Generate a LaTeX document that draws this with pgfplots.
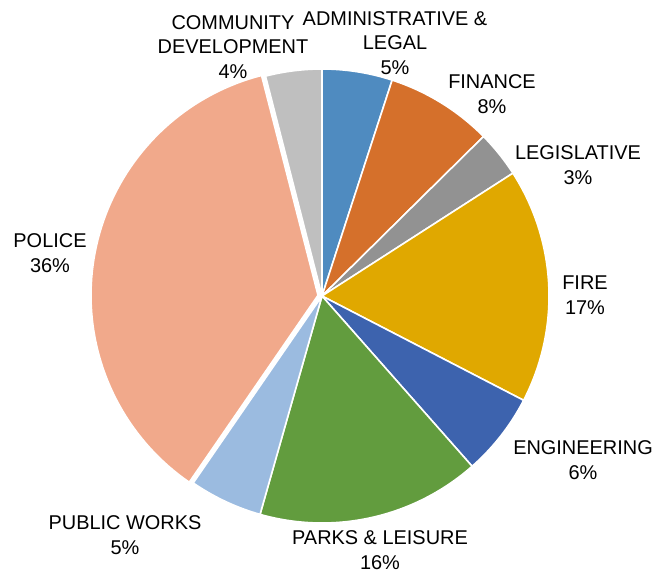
\documentclass[border=0pt]{standalone}
\usepackage{pgfplots}
\usepackage{pgfplotstable}
\pgfplotsset{compat=1.18}
\usepackage{fontspec}
\setmainfont{Liberation Sans}

\definecolor{cAdmin}{HTML}{4F8BC0}
\definecolor{cFin}{HTML}{D5702B}
\definecolor{cLeg}{HTML}{929292}
\definecolor{cFire}{HTML}{E0A800}
\definecolor{cEng}{HTML}{3D63AE}
\definecolor{cParks}{HTML}{629C3E}
\definecolor{cPW}{HTML}{9BBBE0}
\definecolor{cPol}{HTML}{F1A98B}
\definecolor{cCom}{HTML}{BFBFBF}

% share of each department (percent), clockwise from 12 o'clock
\pgfplotstableread{
name value
Admin 5.0
Finance 7.6
Legislative 3.3
Fire 16.7
Engineering 5.9
Parks 15.9
PublicWorks 5.2
Police 36.4
Community 4.0
}\piedata

\gdef\piecum{0}
\pgfplotsforeachungrouped \i in {0,...,8}{%
  \pgfplotstablegetelem{\i}{value}\of\piedata
  \let\pv\pgfplotsretval
  \expandafter\xdef\csname sa\i\endcsname{\piecum}%
  \pgfmathsetmacro\tmpcum{\piecum+\pv}%
  \xdef\piecum{\tmpcum}%
  \expandafter\xdef\csname sb\i\endcsname{\piecum}%
}

\newcommand\pieslice[3][]{%
  \addplot[fill=#3, draw=white, line width=1.6pt, line join=round,
    domain={3.6*\csname sa#2\endcsname}:{3.6*\csname sb#2\endcsname},
    samples=80, variable=\t, #1]
    ({322+227*sin(\t)},{296-227*cos(\t)}) -- (axis cs:322,296) -- cycle;
}

\tikzset{lab/.style={font=\fontsize{20}{24.5}\selectfont, align=center, text=black, inner sep=0pt}}

\begin{document}
\begin{tikzpicture}
\begin{axis}[
  width=656bp, height=575bp, scale only axis,
  xmin=0, xmax=656, ymin=0, ymax=575, y dir=reverse,
  hide axis, clip=false,
]
\pieslice{0}{cAdmin}
\pieslice{1}{cFin}
\pieslice{2}{cLeg}
\pieslice{3}{cFire}
\pieslice{4}{cEng}
\pieslice{5}{cParks}
\pieslice{6}{cPW}
\pieslice[xshift=-4bp, yshift=0.7bp]{7}{cPol}
\pieslice{8}{cCom}

\node[lab] at (axis cs:233,47) {COMMUNITY\\DEVELOPMENT\\4\%};
\node[lab] at (axis cs:395,43) {ADMINISTRATIVE \&\\LEGAL\\5\%};
\node[lab] at (axis cs:492,94) {FINANCE\\8\%};
\node[lab] at (axis cs:578,165) {LEGISLATIVE\\3\%};
\node[lab] at (axis cs:585,295) {FIRE\\17\%};
\node[lab] at (axis cs:583,460) {ENGINEERING\\6\%};
\node[lab] at (axis cs:380,550) {PARKS \& LEISURE\\16\%};
\node[lab] at (axis cs:125,535) {PUBLIC WORKS\\5\%};
\node[lab] at (axis cs:50,253) {POLICE\\36\%};
\end{axis}
\pgfresetboundingbox
\path (current axis.south west) rectangle (current axis.north east);
\end{tikzpicture}
\end{document}
